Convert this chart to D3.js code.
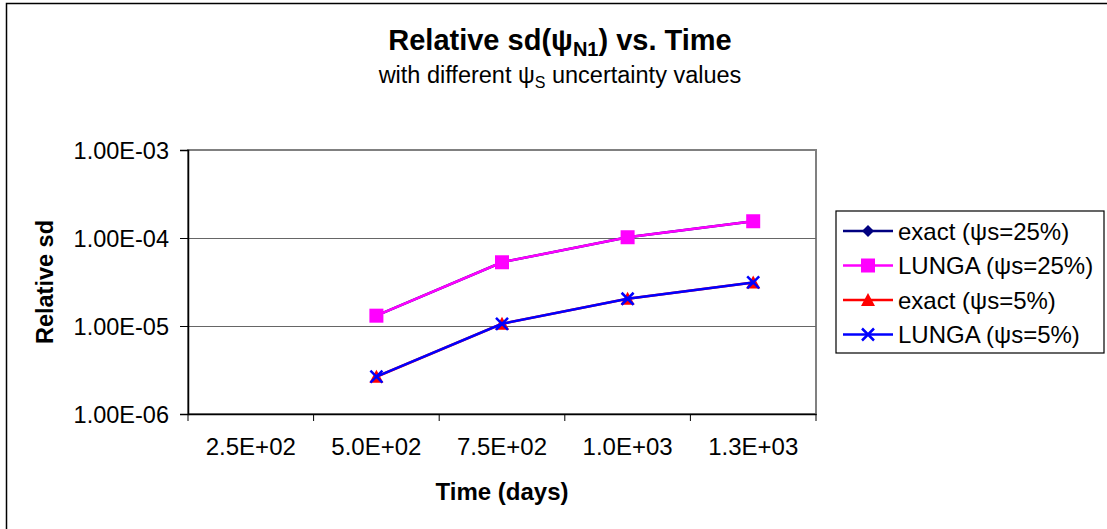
<!DOCTYPE html>
<html><head><meta charset="utf-8">
<script src="https://cdn.jsdelivr.net/npm/d3@7"></script>
<style>
body{margin:0;background:#fff;}
svg text{font-family:"Liberation Sans",Arial,sans-serif;fill:#000;}
</style></head>
<body><svg id="c" width="1107" height="529"></svg>
<script>
const categories = ["2.5E+02","5.0E+02","7.5E+02","1.0E+03","1.3E+03"];
const yTicks = [1e-6,1e-5,1e-4,1e-3];
const yTickLabels = ["1.00E-06","1.00E-05","1.00E-04","1.00E-03"];
const exact25 = [null, 1.31e-5, 5.3e-5, 1.02e-4, 1.55e-4];
const lunga25 = [null, 1.31e-5, 5.3e-5, 1.02e-4, 1.55e-4];
const exact5  = [null, 2.65e-6, 1.06e-5, 2.04e-5, 3.12e-5];
const lunga5  = [null, 2.66e-6, 1.06e-5, 2.04e-5, 3.13e-5];
const seriesNames = ["exact (\u03c8s=25%)","LUNGA (\u03c8s=25%)","exact (\u03c8s=5%)","LUNGA (\u03c8s=5%)"];

const series = [
  {name:seriesNames[0], values:exact25, color:"#000080", marker:"diamond"},
  {name:seriesNames[1], values:lunga25, color:"#FF00FF", marker:"square"},
  {name:seriesNames[2], values:exact5,  color:"#FF0000", marker:"triangle"},
  {name:seriesNames[3], values:lunga5,  color:"#0000FF", marker:"x"}
];

const svg = d3.select("#c");
svg.append("rect").attr("x",6.5).attr("y",3.5).attr("width",1120).attr("height",540)
  .attr("fill","none").attr("stroke","#000").attr("stroke-width",1.5);

const L=188, R=816, T=150, B=414;
const x = d3.scaleBand().domain(categories).range([L,R]).padding(0);
const y = d3.scaleLog().domain([1e-6,1e-3]).range([B,T]);

svg.append("rect").attr("x",L).attr("y",T).attr("width",R-L).attr("height",B-T)
  .attr("fill","none").attr("stroke","#808080").attr("stroke-width",2);

svg.append("g").selectAll("line").data(yTicks.slice(1,3)).join("line")
  .attr("x1",L).attr("x2",R).attr("y1",d=>Math.round(y(d))+0.5).attr("y2",d=>Math.round(y(d))+0.5)
  .attr("stroke","#666").attr("stroke-width",1.2);

const yAxis = d3.axisLeft(y).tickValues(yTicks).tickFormat((d,i)=>yTickLabels[i]).tickSize(8).tickPadding(11);
const gy = svg.append("g").attr("transform",`translate(${L},0)`).call(yAxis);
gy.select(".domain").attr("stroke","#000").attr("stroke-width",1.5);
gy.selectAll(".tick line").attr("stroke","#000");
gy.selectAll(".tick text").attr("font-size",23.5).attr("dy","0.35em").style("font-family","Liberation Sans, Arial");

const xAxis = d3.axisBottom(x).tickSize(0).tickPadding(29);
const gx = svg.append("g").attr("transform",`translate(0,${B})`).call(xAxis);
gx.select(".domain").attr("stroke","#000").attr("stroke-width",1.5);
gx.selectAll(".tick text").attr("font-size",24).attr("dy","0.5em").style("font-family","Liberation Sans, Arial");
const bounds = categories.map(c=>x(c)).concat([x(categories[categories.length-1])+x.bandwidth()]);
svg.append("g").selectAll("line").data(bounds).join("line")
  .attr("x1",d=>d).attr("x2",d=>d).attr("y1",B).attr("y2",B+7)
  .attr("stroke","#000").attr("stroke-width",1);

const cx = i => x(categories[i]) + x.bandwidth()/2;
const line = d3.line().defined(d=>d.v!=null).x(d=>cx(d.i)).y(d=>y(d.v));
function marker(g, type, color, px, py){
  if(type==="diamond"){
    g.append("path").attr("d",`M${px},${py-6}L${px+6},${py}L${px},${py+6}L${px-6},${py}Z`).attr("fill",color);
  } else if(type==="square"){
    g.append("rect").attr("x",px-7).attr("y",py-7).attr("width",14).attr("height",14).attr("fill",color);
  } else if(type==="triangle"){
    g.append("path").attr("d",`M${px},${py-7}L${px+7},${py+6}L${px-7},${py+6}Z`).attr("fill",color);
  } else {
    g.append("path").attr("d",`M${px-6},${py-6}L${px+6},${py+6}M${px-6},${py+6}L${px+6},${py-6}`)
      .attr("stroke",color).attr("stroke-width",2.5).attr("fill","none");
  }
}
series.forEach(s=>{
  const pts = s.values.map((v,i)=>({v,i}));
  const g = svg.append("g");
  g.append("path").datum(pts).attr("d",line).attr("fill","none").attr("stroke",s.color).attr("stroke-width",2.5);
  pts.filter(d=>d.v!=null).forEach(d=>marker(g,s.marker,s.color,cx(d.i),y(d.v)));
});

const t = svg.append("text").attr("x",560).attr("y",50).attr("text-anchor","middle")
  .attr("font-size",29).attr("font-weight","bold");
t.append("tspan").text("Relative sd(\u03c8");
t.append("tspan").text("N1").attr("font-size",20).attr("dy",6);
t.append("tspan").text(") vs. Time").attr("dy",-6);
const st = svg.append("text").attr("x",560).attr("y",83).attr("text-anchor","middle").attr("font-size",23.5);
st.append("tspan").text("with different \u03c8");
st.append("tspan").text("S").attr("font-size",16).attr("dy",5);
st.append("tspan").text(" uncertainty values").attr("dy",-5);

svg.append("text").attr("transform","translate(53,282) rotate(-90)").attr("text-anchor","middle")
  .attr("font-size",23.5).attr("font-weight","bold").text("Relative sd");
svg.append("text").attr("x",502).attr("y",500).attr("text-anchor","middle")
  .attr("font-size",24).attr("font-weight","bold").text("Time (days)");

const lg = svg.append("g");
lg.append("rect").attr("x",836).attr("y",211).attr("width",268).attr("height",142)
  .attr("fill","#fff").attr("stroke","#000").attr("stroke-width",1.2);
series.forEach((s,i)=>{
  const ly = 231 + i*34.5;
  lg.append("line").attr("x1",843).attr("x2",893).attr("y1",ly).attr("y2",ly).attr("stroke",s.color).attr("stroke-width",2.5);
  marker(lg,s.marker,s.color,868,ly);
  lg.append("text").attr("x",898).attr("y",ly+8.5).attr("font-size",24).text(s.name);
});
</script></body></html>
